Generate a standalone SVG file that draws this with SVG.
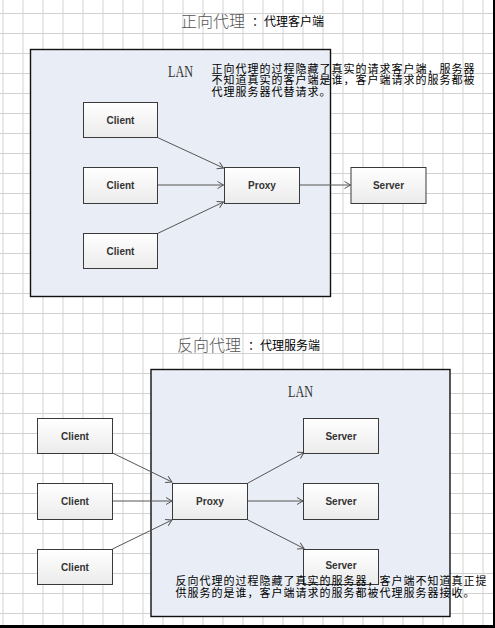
<svg xmlns="http://www.w3.org/2000/svg" width="495" height="628" viewBox="0 0 495 628">
<style>
.lan{fill:#e9edf5;stroke:#111;stroke-width:1.4}
.node rect{fill:url(#ng);stroke:#3a3a3a;stroke-width:1}
.node text{font-family:"Liberation Sans",Arial,sans-serif;font-weight:bold;font-size:10px;fill:#333;text-anchor:middle}
.lantxt{font-family:"Liberation Serif","Times New Roman",serif;font-size:17px;fill:#333}
.title{font-family:"Noto Sans CJK SC","Noto Sans CJK JP",sans-serif;font-size:16px;fill:#555;font-weight:300}
.sub{font-family:"Noto Sans CJK SC","Noto Sans CJK JP",sans-serif;font-size:12px;fill:#000}
.desc{font-family:"Noto Sans CJK SC","Noto Sans CJK JP",sans-serif;font-size:11px;letter-spacing:1px;fill:#000}
#connectors line{stroke:#555;stroke-width:1;marker-end:url(#arr)}
</style>
<defs>
<pattern id="grid" patternUnits="userSpaceOnUse" x="2.5" y="13" width="20" height="20">
<path d="M0.5,0 V20 M0,0.5 H20" fill="none" stroke="#d2d2d2" stroke-width="1"/>
</pattern>
<linearGradient id="ng" x1="0" y1="0" x2="0" y2="1">
<stop offset="0" stop-color="#ffffff"/>
<stop offset="1" stop-color="#ebebeb"/>
</linearGradient>
<marker id="arr" markerUnits="userSpaceOnUse" markerWidth="10" markerHeight="10" refX="7" refY="4" orient="auto">
<path d="M1,0.5 L7,4 L1,7.5" fill="none" stroke="#555" stroke-width="1"/>
</marker>
</defs>
<rect x="0" y="0" width="495" height="628" fill="#fff"/>
<rect x="0" y="0" width="495" height="628" fill="url(#grid)"/>
<rect x="493" y="0" width="2" height="628" fill="#000"/>
<rect x="0" y="625" width="495" height="3" fill="#000"/>

<g id="title-forward">
<text x="181" y="27" class="title">正向代理</text>
<text x="252" y="26" class="sub">：代理客户端</text>
</g>
<g id="lan-forward">
<rect x="30.5" y="49.5" width="300" height="247" class="lan"/>
<text x="168" y="77" class="lantxt" textLength="25" lengthAdjust="spacingAndGlyphs">LAN</text>
</g>
<g id="desc-forward" class="desc">
<text x="211.5" y="72.5">正向代理的过程隐藏了真实的请求客户端，服务器</text>
<text x="211.5" y="84">不知道真实的客户端是谁，客户端请求的服务都被</text>
<text x="211.5" y="95.5">代理服务器代替请求。</text>
</g>

<g id="title-reverse">
<text x="177" y="351" class="title">反向代理</text>
<text x="248" y="350" class="sub">：代理服务端</text>
</g>
<g id="lan-reverse">
<rect x="151" y="369.5" width="299" height="247" class="lan"/>
<text x="288" y="397" class="lantxt" textLength="25" lengthAdjust="spacingAndGlyphs">LAN</text>
</g>

<g id="connectors">
<line x1="157.5" y1="137.5" x2="223.5" y2="168"/>
<line x1="157.5" y1="185" x2="223.5" y2="185"/>
<line x1="157.5" y1="233.5" x2="223.5" y2="202"/>
<line x1="299.5" y1="185" x2="350.5" y2="185"/>
<line x1="112.5" y1="453" x2="172" y2="482"/>
<line x1="112.5" y1="501" x2="172" y2="501"/>
<line x1="112.5" y1="549" x2="172" y2="520"/>
<line x1="248" y1="483" x2="304" y2="452.5"/>
<line x1="248" y1="501" x2="303" y2="501"/>
<line x1="248" y1="520" x2="304" y2="548.5"/>
</g>

<g id="f-client1" class="node"><rect x="83.5" y="102.5" width="74" height="35"/><text x="120.5" y="123.5">Client</text></g>
<g id="f-client2" class="node"><rect x="83.5" y="167.5" width="74" height="36"/><text x="120.5" y="189">Client</text></g>
<g id="f-client3" class="node"><rect x="83.5" y="233.5" width="74" height="35"/><text x="120.5" y="254.5">Client</text></g>
<g id="f-proxy" class="node"><rect x="224.5" y="167.5" width="75" height="36"/><text x="262" y="189">Proxy</text></g>
<g id="f-server" class="node"><rect x="351" y="167.5" width="75" height="36"/><text x="388.5" y="189">Server</text></g>

<g id="r-client1" class="node"><rect x="37.5" y="418.5" width="75" height="35"/><text x="75" y="439.5">Client</text></g>
<g id="r-client2" class="node"><rect x="37.5" y="483.5" width="75" height="36"/><text x="75" y="505">Client</text></g>
<g id="r-client3" class="node"><rect x="37.5" y="549.5" width="75" height="35"/><text x="75" y="570.5">Client</text></g>
<g id="r-proxy" class="node"><rect x="172.5" y="483.5" width="75" height="36"/><text x="210" y="505">Proxy</text></g>
<g id="r-server1" class="node"><rect x="303.5" y="418.5" width="75" height="35"/><text x="341" y="439.5">Server</text></g>
<g id="r-server2" class="node"><rect x="303.5" y="483.5" width="75" height="36"/><text x="341" y="505">Server</text></g>
<g id="r-server3" class="node"><rect x="303.5" y="549.5" width="75" height="35"/><text x="341" y="568.5">Server</text></g>

<g id="desc-reverse" class="desc">
<text x="175.5" y="584.5">反向代理的过程隐藏了真实的服务器，客户端不知道真正提</text>
<text x="175.5" y="596.5">供服务的是谁，客户端请求的服务都被代理服务器接收。</text>
</g>
</svg>
